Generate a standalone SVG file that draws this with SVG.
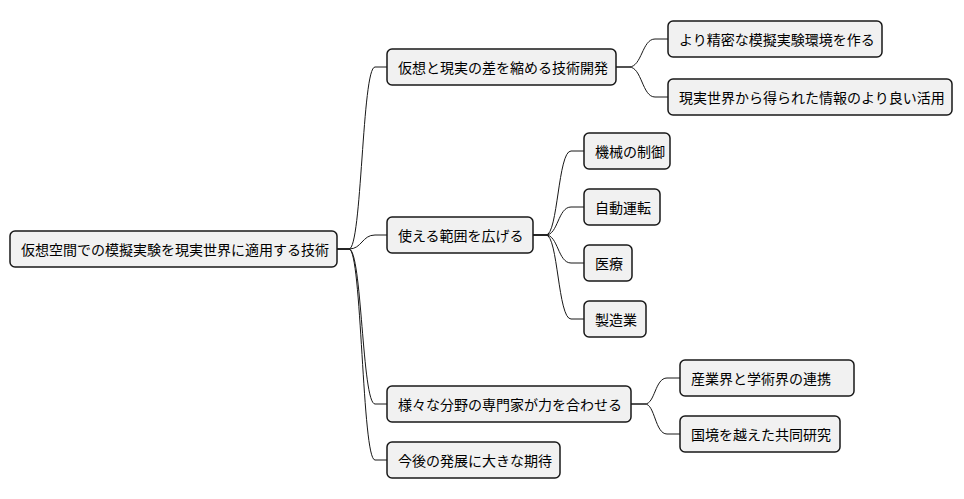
<svg xmlns="http://www.w3.org/2000/svg" width="964" height="499" viewBox="0 0 964 499">
<style>
.n rect{fill:#f1f1f1;stroke:#181818;stroke-width:1.5}
.n text{font-family:"Noto Sans CJK JP","Noto Sans",sans-serif;font-size:14px;fill:#000;dominant-baseline:central}
.c path{fill:none;stroke:#181818;stroke-width:1}
</style>
<rect width="964" height="499" fill="#fff"/>
<g class="c">
<path d="M337,249 H349 C362,249 362,67 375,67 H387"/>
<path d="M337,249 H349 C362,249 362,235 375,235 H387"/>
<path d="M337,249 H349 C362,249 362,404 375,404 H387"/>
<path d="M337,249 H349 C362,249 362,460 375,460 H387"/>
<path d="M616,67 H629 C642,67 642,39 655,39 H668"/>
<path d="M616,67 H629 C642,67 642,97 655,97 H668"/>
<path d="M533,235 H546 C558,235 558,151 571,151 H584"/>
<path d="M533,235 H546 C558,235 558,207 571,207 H584"/>
<path d="M533,235 H546 C558,235 558,263 571,263 H584"/>
<path d="M533,235 H546 C558,235 558,319 571,319 H584"/>
<path d="M631,404 H645 C655,404 655,378 667,378 H680"/>
<path d="M631,404 H645 C655,404 655,434 667,434 H680"/>
</g>
<g class="n" id="root"><rect x="10" y="231" width="327" height="36" rx="5"/><text x="21" y="249">仮想空間での模擬実験を現実世界に適用する技術</text></g>
<g class="n" id="a"><rect x="387" y="49" width="229" height="36" rx="5"/><text x="398" y="67">仮想と現実の差を縮める技術開発</text></g>
<g class="n" id="a1"><rect x="668" y="21" width="214" height="36" rx="5"/><text x="679" y="39">より精密な模擬実験環境を作る</text></g>
<g class="n" id="a2"><rect x="668" y="79" width="284" height="36" rx="5"/><text x="679" y="97">現実世界から得られた情報のより良い活用</text></g>
<g class="n" id="b"><rect x="387" y="217" width="146" height="36" rx="5"/><text x="398" y="235">使える範囲を広げる</text></g>
<g class="n" id="b1"><rect x="584" y="133" width="86" height="36" rx="5"/><text x="595" y="151">機械の制御</text></g>
<g class="n" id="b2"><rect x="584" y="189" width="76" height="36" rx="5"/><text x="595" y="207">自動運転</text></g>
<g class="n" id="b3"><rect x="584" y="245" width="48" height="36" rx="5"/><text x="595" y="263">医療</text></g>
<g class="n" id="b4"><rect x="584" y="301" width="62" height="36" rx="5"/><text x="595" y="319">製造業</text></g>
<g class="n" id="c"><rect x="387" y="386" width="244" height="36" rx="5"/><text x="398" y="404">様々な分野の専門家が力を合わせる</text></g>
<g class="n" id="c1"><rect x="680" y="360" width="174" height="36" rx="5"/><text x="691" y="378">産業界と学術界の連携</text></g>
<g class="n" id="c2"><rect x="680" y="416" width="160" height="36" rx="5"/><text x="691" y="434">国境を越えた共同研究</text></g>
<g class="n" id="d"><rect x="387" y="442" width="173" height="36" rx="5"/><text x="398" y="460">今後の発展に大きな期待</text></g>
</svg>
